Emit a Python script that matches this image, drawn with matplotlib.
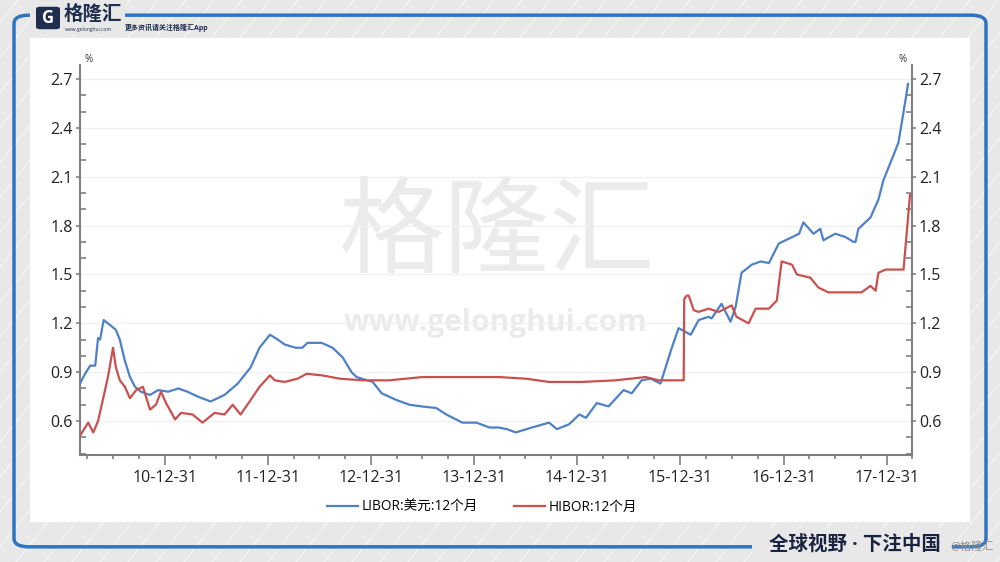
import matplotlib
matplotlib.use("Agg")
import matplotlib.pyplot as plt
import matplotlib.dates as mdates
from matplotlib.patches import FancyBboxPatch, Rectangle
from matplotlib.lines import Line2D
import numpy as np
import pandas as pd

plt.rcParams['font.family'] = ['Open Sans', 'Noto Sans CJK SC', 'DejaVu Sans']

# LIBOR USD 12M
libor_dates = [
    "2010-03-05", "2010-03-23", "2010-04-10", "2010-04-28", "2010-05-08", "2010-05-15",
    "2010-05-28", "2010-06-19", "2010-07-10", "2010-07-24", "2010-08-11", "2010-08-29",
    "2010-09-16", "2010-10-07", "2010-11-08", "2010-12-07", "2011-01-11", "2011-02-16",
    "2011-03-21", "2011-04-26", "2011-06-11", "2011-07-30", "2011-09-15", "2011-10-31",
    "2011-12-01", "2012-01-07", "2012-02-04", "2012-02-28", "2012-04-07", "2012-05-01",
    "2012-05-19", "2012-07-08", "2012-08-16", "2012-09-21", "2012-10-22", "2012-11-09",
    "2013-01-05", "2013-02-06", "2013-03-29", "2013-05-15", "2013-06-26", "2013-08-18",
    "2013-09-23", "2013-11-19", "2014-01-08", "2014-02-23", "2014-03-28", "2014-04-26",
    "2014-05-27", "2014-07-23", "2014-09-22", "2014-10-20", "2014-12-02", "2015-01-07",
    "2015-01-31", "2015-03-10", "2015-04-21", "2015-06-13", "2015-07-12", "2015-08-16",
    "2015-09-17", "2015-10-22", "2015-11-09", "2015-12-01", "2015-12-25", "2016-02-06",
    "2016-03-05", "2016-04-09", "2016-04-20", "2016-05-25", "2016-06-26", "2016-07-14",
    "2016-08-04", "2016-09-09", "2016-10-11", "2016-11-09", "2016-12-14", "2017-01-19",
    "2017-02-24", "2017-03-11", "2017-04-16", "2017-05-10", "2017-05-21", "2017-07-02",
    "2017-08-07", "2017-09-05", "2017-09-12", "2017-09-22", "2017-11-04", "2017-12-02",
    "2017-12-20", "2018-01-17", "2018-02-11", "2018-03-06", "2018-03-17",
]
libor_values = [
    0.83, 0.89, 0.94, 0.94, 1.11, 1.10,
    1.22, 1.19, 1.16, 1.10, 0.97, 0.87,
    0.81, 0.78, 0.76, 0.79, 0.78, 0.80,
    0.78, 0.75, 0.72, 0.76, 0.83, 0.93,
    1.05, 1.13, 1.10, 1.07, 1.05, 1.05,
    1.08, 1.08, 1.05, 0.99, 0.90, 0.87,
    0.84, 0.77, 0.73, 0.70, 0.69, 0.68,
    0.64, 0.59, 0.59, 0.56, 0.56, 0.55,
    0.53, 0.56, 0.59, 0.55, 0.58, 0.64,
    0.62, 0.71, 0.69, 0.79, 0.77, 0.85,
    0.86, 0.83, 0.93, 1.05, 1.17, 1.13,
    1.22, 1.24, 1.23, 1.32, 1.21, 1.30,
    1.51, 1.56, 1.58, 1.57, 1.69, 1.72,
    1.75, 1.82, 1.75, 1.78, 1.71, 1.75,
    1.73, 1.70, 1.70, 1.78, 1.85, 1.96,
    2.08, 2.20, 2.31, 2.55, 2.67,
]

# HIBOR 12M
hibor_dates = [
    "2010-03-05", "2010-03-23", "2010-04-03", "2010-04-21", "2010-05-08", "2010-05-25",
    "2010-06-12", "2010-06-30", "2010-07-10", "2010-07-24", "2010-08-11", "2010-08-29",
    "2010-09-20", "2010-10-14", "2010-11-08", "2010-11-29", "2010-12-17", "2011-01-04",
    "2011-02-05", "2011-02-26", "2011-04-08", "2011-05-13", "2011-06-25", "2011-07-30",
    "2011-08-28", "2011-09-25", "2011-10-31", "2011-12-01", "2012-01-07", "2012-01-24",
    "2012-02-28", "2012-04-14", "2012-05-16", "2012-07-11", "2012-09-10", "2012-12-01",
    "2013-03-05", "2013-06-30", "2013-10-28", "2014-03-28", "2014-07-02", "2014-09-22",
    "2015-01-17", "2015-05-16", "2015-08-30", "2015-10-15", "2016-01-02", "2016-01-12",
    "2016-01-14", "2016-01-23", "2016-01-30", "2016-02-17", "2016-03-05", "2016-04-09",
    "2016-05-15", "2016-06-30", "2016-07-17", "2016-08-29", "2016-09-23", "2016-11-09",
    "2016-12-07", "2016-12-24", "2017-01-30", "2017-02-16", "2017-04-05", "2017-05-03",
    "2017-06-08", "2017-08-07", "2017-10-03", "2017-11-04", "2017-11-22", "2017-12-02",
    "2017-12-27", "2018-03-01", "2018-03-10", "2018-03-24",
]
hibor_values = [
    0.51, 0.56, 0.59, 0.53, 0.60, 0.73,
    0.87, 1.05, 0.93, 0.85, 0.81, 0.74,
    0.79, 0.81, 0.67, 0.70, 0.78, 0.71,
    0.61, 0.65, 0.64, 0.59, 0.65, 0.64,
    0.70, 0.64, 0.73, 0.81, 0.88, 0.85,
    0.84, 0.86, 0.89, 0.88, 0.86, 0.85,
    0.85, 0.87, 0.87, 0.87, 0.86, 0.84,
    0.84, 0.85, 0.87, 0.85, 0.85, 0.85,
    1.35, 1.37, 1.37, 1.28, 1.27, 1.29,
    1.27, 1.31, 1.24, 1.20, 1.29, 1.29,
    1.34, 1.58, 1.56, 1.50, 1.48, 1.42,
    1.39, 1.39, 1.39, 1.43, 1.40, 1.51,
    1.53, 1.53, 1.71, 1.99,
]

y_ticks = [0.6, 0.9, 1.2, 1.5, 1.8, 2.1, 2.4, 2.7]
x_ticks = ["2010-12-31", "2011-12-31", "2012-12-31", "2013-12-31",
           "2014-12-31", "2015-12-31", "2016-12-31", "2017-12-31"]

libor_color = "#4f81c7"
hibor_color = "#c9504e"
bg = "#e8e8e8"

fig = plt.figure(figsize=(10, 5.62), dpi=100)
fig.patch.set_facecolor(bg)

# background stripes
for k in np.arange(-0.6, 1.6, 0.028):
    fig.add_artist(Line2D([k, k + 0.45], [0, 1], transform=fig.transFigure,
                          color="white", lw=1.0, alpha=0.5, zorder=0))

# frame
fig.add_artist(FancyBboxPatch((0.014, 0.027), 0.972, 0.946,
                              boxstyle="round,pad=0,rounding_size=0.015",
                              transform=fig.transFigure, fill=False,
                              ec="#2f74c0", lw=2.5, zorder=1))
# white panel
fig.add_artist(Rectangle((0.03, 0.071), 0.94, 0.862, transform=fig.transFigure,
                         fc="white", ec="none", zorder=2))

# logo area (covers frame top-left)
fig.add_artist(Rectangle((0.03, 0.94), 0.095, 0.06, transform=fig.transFigure,
                         fc=bg, ec="none", zorder=3))
fig.add_artist(FancyBboxPatch((0.036, 0.948), 0.024, 0.04,
                              boxstyle="round,pad=0,rounding_size=0.004",
                              transform=fig.transFigure, fc="#1f2d4e", ec="none", zorder=4))
fig.text(0.048, 0.968, "G", color="white", fontsize=12, fontweight="bold",
         ha="center", va="center", zorder=5)
fig.text(0.064, 0.973, "格隆汇", color="#1f2d4e", fontsize=14, fontweight="bold",
         ha="left", va="center", zorder=5)
fig.text(0.065, 0.947, "www.gelonghui.com", color="#1f2d4e", fontsize=3.6,
         ha="left", va="center", zorder=5)
fig.text(0.125, 0.951, "更多资讯请关注格隆汇App", color="#1f2d4e", fontsize=5,
         fontweight="bold", ha="left", va="center", zorder=5)

# bottom slogan
fig.add_artist(Rectangle((0.752, 0.0), 0.2, 0.06, transform=fig.transFigure,
                         fc=bg, ec="none", zorder=3))
fig.text(0.855, 0.03, "全球视野 · 下注中国", color="#1a2340", fontsize=14,
         fontweight="bold", ha="center", va="center", zorder=5)
fig.text(0.972, 0.025, "@格隆汇", color="#909090", fontsize=8,
         ha="center", va="center", zorder=5)

ax = fig.add_axes([0.08, 0.19, 0.832, 0.694], zorder=6)
ax.set_facecolor("none")

ld = pd.to_datetime(libor_dates)
hd = pd.to_datetime(hibor_dates)
ax.plot(ld, libor_values, color=libor_color, lw=1.6, label="LIBOR:美元:12个月", zorder=3)
ax.plot(hd, hibor_values, color=hibor_color, lw=1.6, label="HIBOR:12个月", zorder=3)

ax.set_xlim(pd.Timestamp("2010-03-05"), pd.Timestamp("2018-03-24"))
ax.set_ylim(0.39, 2.785)

ax.set_yticks(y_ticks)
ax.set_yticks(np.arange(0.4, 2.75, 0.1), minor=True)
ax.yaxis.set_major_formatter(matplotlib.ticker.FormatStrFormatter("%.1f"))
ax.grid(axis="y", color="#f0f0f0", lw=1.0, zorder=0)

ax.set_xticks(pd.to_datetime(x_ticks))
ax.set_xticks(pd.date_range("2010-03-31", "2018-03-31", freq="QE"), minor=True)
ax.xaxis.set_major_formatter(mdates.DateFormatter("%y-%m-%d"))

for s in ["left", "right", "bottom"]:
    ax.spines[s].set_color("#7f7f7f")
    ax.spines[s].set_linewidth(1.5)
ax.spines["top"].set_visible(False)

ax.tick_params(axis="x", which="major", direction="out", length=7, width=1.2,
               color="#7f7f7f", labelsize=11.5, labelcolor="#222222", pad=4)
ax.tick_params(axis="x", which="minor", direction="out", length=3, width=1.2,
               color="#7f7f7f")
ax.tick_params(axis="y", which="major", direction="out", length=3, width=1.2,
               color="#7f7f7f", labelsize=11.5, labelcolor="#222222",
               left=True, right=True, labelleft=True, labelright=True, pad=2)
ax.tick_params(axis="y", which="minor", direction="in", length=4, width=1.2,
               color="#7f7f7f", left=True, right=True)

# unit marks
ax.text(0.006, 1.0, "%", transform=ax.transAxes, fontsize=7, color="#333333",
        ha="left", va="bottom")
ax.text(0.994, 1.0, "%", transform=ax.transAxes, fontsize=7, color="#333333",
        ha="right", va="bottom")

# watermark
ax.text(0.5, 0.565, "格隆汇", transform=ax.transAxes, fontsize=76, color="#ebebeb",
        ha="center", va="center", zorder=1, family=["Noto Sans CJK SC"])
ax.text(0.5, 0.34, "www.gelonghui.com", transform=ax.transAxes, fontsize=21.5,
        fontweight="bold", color="#ebebeb", ha="center", va="center", zorder=1)

fig.legend(loc="center", bbox_to_anchor=(0.482, 0.098), ncol=2, frameon=False,
           fontsize=9.8, handlelength=2.3, columnspacing=2.6, handletextpad=0.25)

fig.savefig("out.png", dpi=100, facecolor=fig.get_facecolor())
